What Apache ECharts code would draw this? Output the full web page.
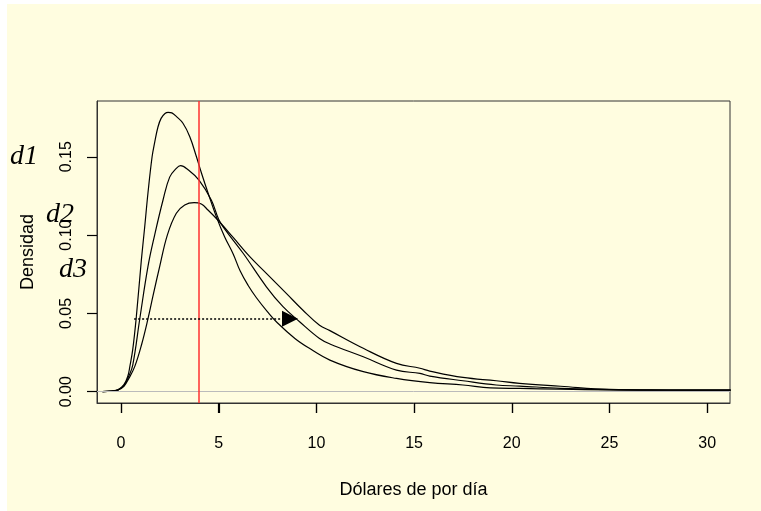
<!DOCTYPE html>
<html>
<head>
<meta charset="utf-8">
<script src="https://cdn.jsdelivr.net/npm/echarts@6/dist/echarts.min.js"></script>
<style>html,body{margin:0;padding:0;background:#fff;}#c{width:761px;height:511px;}</style>
</head>
<body>
<div id="c"></div>
<script>
// ---- data ----
const xTicks = [0, 5, 10, 15, 20, 25, 30];
const yTicks = [0, 0.05, 0.10, 0.15];
const seriesNames = ['d1', 'd2', 'd3'];

const x1 = [-0.95,-0.5,-0.15,0.15,0.35,0.45,0.6,0.785,1.04,1.21,1.38,1.59,1.72,1.89,2.05,2.25,2.41,2.6,2.84,3.17,3.52,3.86,4.12,4.45,4.9,5.3,5.74,6.1,6.5,6.93,7.5,8.0,8.9,9.6,10.69,12.4,14.1,15.8,17.5,18.9,20.4,22.5,25,28,31.2];
const y1 = [0,0.0004,0.0012,0.0045,0.0100,0.0160,0.0270,0.0481,0.0840,0.1050,0.1270,0.1500,0.1590,0.1690,0.1745,0.1776,0.1784,0.1780,0.1756,0.1714,0.1628,0.1500,0.1395,0.1270,0.1110,0.0990,0.0880,0.0770,0.0680,0.0600,0.0510,0.0440,0.0340,0.0280,0.0202,0.0128,0.0085,0.0058,0.0043,0.0025,0.0021,0.0016,0.0012,0.0010,0.0010];

const x2 = [-0.95,-0.5,-0.15,0.15,0.4,0.6,0.96,1.38,1.72,2.15,2.49,2.83,3.05,3.43,4.0,4.62,5.0,5.3,6.25,7.44,8.29,9.14,10.16,10.69,12.4,14.1,15.3,15.8,17.5,19.2,20.4,22.5,25,28,31.2];
const y2 = [0,0.0004,0.0012,0.0040,0.0100,0.0170,0.0466,0.0800,0.1000,0.1224,0.1370,0.1426,0.1443,0.1417,0.1350,0.1224,0.1100,0.1040,0.0884,0.0670,0.0543,0.0447,0.0340,0.0305,0.0223,0.0138,0.0117,0.0100,0.0070,0.0043,0.0036,0.0022,0.0013,0.0010,0.0010];

const x3 = [-0.95,-0.5,-0.15,0.15,0.4,0.7,1.05,1.38,1.65,1.98,2.37,2.83,3.26,3.74,4.11,4.45,5.0,5.74,6.59,7.44,8.46,9.3,10.16,10.69,12.4,14.1,15.3,15.8,17.5,19.2,20.4,22.5,25,28,31.2];
const y3 = [0,0.0004,0.0012,0.0035,0.0085,0.0160,0.0300,0.0466,0.0620,0.0800,0.1000,0.1139,0.1192,0.1207,0.1198,0.1160,0.1090,0.0985,0.0862,0.0756,0.0628,0.0522,0.0425,0.0390,0.0277,0.0181,0.0150,0.0132,0.0091,0.0070,0.0053,0.0035,0.0015,0.0011,0.0010];

const povertyLine = 4;
const arrowFrom = [0.67, 0.0466];
const arrowTo = [8.65, 0.0466];

const xTitle = 'Dólares de por día';
const yTitle = 'Densidad';

// ---- chart ----
const zip = (xs, ys) => xs.map((x, i) => [x, ys[i]]);
const chart = echarts.init(document.getElementById('c'), null, {renderer: 'canvas'});
const curveStyle = {color: '#000', width: 1.2};
const X_MIN = -1.23, X_MAX = 31.17, Y_MIN = -0.0072, Y_MAX = 0.1856;

const option = {
  animation: false,
  backgroundColor: '#FFFDE0',
  graphic: [
    {type: 'rect', silent: true, shape: {x: 0, y: 0, width: 761, height: 4}, style: {fill: '#ffffff'}},
    {type: 'rect', silent: true, shape: {x: 0, y: 0, width: 7, height: 511}, style: {fill: '#ffffff'}},
    {type: 'text', silent: true, style: {x: 10, y: 157, text: seriesNames[0], font: 'italic 28px "Liberation Serif"', fill: '#000', verticalAlign: 'middle'}},
    {type: 'text', silent: true, style: {x: 46, y: 215, text: seriesNames[1], font: 'italic 28px "Liberation Serif"', fill: '#000', verticalAlign: 'middle'}},
    {type: 'text', silent: true, style: {x: 59, y: 270, text: seriesNames[2], font: 'italic 28px "Liberation Serif"', fill: '#000', verticalAlign: 'middle'}}
  ],
  grid: {left: 97, right: 31, top: 101, bottom: 108, show: true, borderColor: '#333', borderWidth: 1, backgroundColor: 'transparent'},
  xAxis: {
    type: 'value', min: X_MIN, max: X_MAX, position: 'bottom',
    name: xTitle, nameLocation: 'middle', nameGap: 78,
    nameTextStyle: {fontFamily: 'Liberation Sans', fontSize: 18, color: '#000'},
    axisLine: {show: true, onZero: false, lineStyle: {color: '#333', width: 1}},
    axisTick: {show: true, inside: false, length: 10, customValues: xTicks, lineStyle: {color: '#000', width: 1.2}},
    axisLabel: {customValues: xTicks, fontFamily: 'Liberation Sans', fontSize: 16, color: '#000', margin: 33},
    splitLine: {show: false}
  },
  yAxis: {
    type: 'value', min: Y_MIN, max: Y_MAX, position: 'left',
    name: yTitle, nameLocation: 'middle', nameGap: 60,
    nameTextStyle: {fontFamily: 'Liberation Sans', fontSize: 18, color: '#000'},
    axisLine: {show: true, onZero: false, lineStyle: {color: '#333', width: 1}},
    axisTick: {show: true, inside: false, length: 10, customValues: yTicks, lineStyle: {color: '#000', width: 1.2}},
    axisLabel: {customValues: yTicks, rotate: 90, fontFamily: 'Liberation Sans', fontSize: 16, color: '#000', margin: 22,
      formatter: v => v.toFixed(2)},
    splitLine: {show: false}
  },
  series: [
    {
      name: 'ref', type: 'line', data: [], silent: true, z: 1,
      markLine: {
        silent: true, symbol: 'none', label: {show: false}, animation: false,
        data: [
          [{coord: [X_MIN, 0], lineStyle: {color: '#bbbbbb', width: 1, type: 'solid'}}, {coord: [X_MAX, 0]}],
          [{xAxis: povertyLine, yAxis: Y_MIN, lineStyle: {color: '#ff3030', width: 1.5, type: 'solid'}}, {xAxis: povertyLine, yAxis: Y_MAX}]
        ]
      }
    },
    {name: seriesNames[0], type: 'line', data: zip(x1, y1), showSymbol: false, smooth: 0.4, lineStyle: curveStyle, z: 3},
    {name: seriesNames[1], type: 'line', data: zip(x2, y2), showSymbol: false, smooth: 0.4, lineStyle: curveStyle, z: 3},
    {name: seriesNames[2], type: 'line', data: zip(x3, y3), showSymbol: false, smooth: 0.4, lineStyle: curveStyle, z: 3},
    {
      name: 'arrow', type: 'line', data: [], silent: true, z: 4,
      markLine: {
        silent: true, label: {show: false}, animation: false,
        symbol: ['none', 'triangle'], symbolSize: [16, 16],
        lineStyle: {color: '#000', width: 1.5, type: [2, 2]},
        itemStyle: {color: '#000'},
        data: [[{coord: arrowFrom}, {coord: arrowTo}]]
      }
    },
    {
      name: 'xticks', type: 'custom', silent: true, clip: false, z: 10,
      data: xTicks.map(v => [v]),
      encode: {x: 0},
      renderItem: function (params, api) {
        const p = api.coord([api.value(0), Y_MIN]);
        const px = Math.round(p[0]) + 0.5;
        return {type: 'line', shape: {x1: px, y1: p[1], x2: px, y2: p[1] + 10}, style: {stroke: '#000', lineWidth: 1.2}};
      }
    }
  ]
};
chart.setOption(option);
</script>
</body>
</html>
